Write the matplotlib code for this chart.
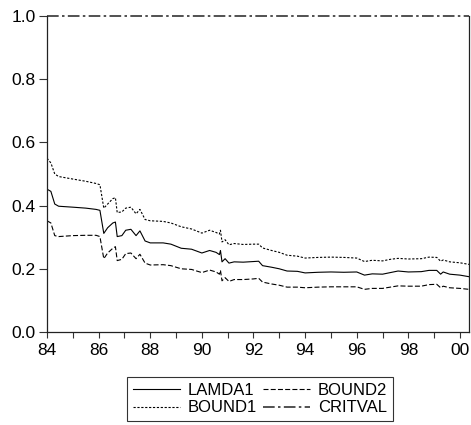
import matplotlib
matplotlib.use("Agg")
from matplotlib import pyplot as plt
from matplotlib.ticker import FixedLocator, FuncFormatter

plt.rcParams['font.family'] = ['Liberation Sans', 'DejaVu Sans']

# data (x in years)
years = [1984.00, 1984.15, 1984.30, 1984.45, 1985.00, 1985.50, 1985.90, 1986.05,
         1986.20, 1986.35, 1986.55, 1986.65, 1986.72, 1986.90, 1987.05, 1987.25,
         1987.45, 1987.60, 1987.80, 1988.00, 1988.50, 1988.80, 1989.20, 1989.60,
         1990.00, 1990.30, 1990.55, 1990.68, 1990.72, 1990.78, 1990.90, 1991.05,
         1991.25, 1991.60, 1992.00, 1992.20, 1992.35, 1992.70, 1993.00, 1993.30,
         1993.70, 1994.00, 1994.50, 1995.00, 1995.50, 1996.00, 1996.30, 1996.60,
         1997.00, 1997.30, 1997.60, 1998.00, 1998.50, 1998.80, 1999.10, 1999.25,
         1999.35, 1999.60, 2000.00, 2000.35]
lamda1 = [0.452, 0.445, 0.405, 0.398, 0.395, 0.392, 0.388, 0.385,
          0.312, 0.330, 0.345, 0.348, 0.302, 0.305, 0.322, 0.325,
          0.305, 0.320, 0.288, 0.282, 0.282, 0.278, 0.265, 0.262,
          0.250, 0.258, 0.252, 0.245, 0.258, 0.222, 0.232, 0.218,
          0.222, 0.221, 0.223, 0.224, 0.210, 0.205, 0.200, 0.193,
          0.192, 0.187, 0.189, 0.190, 0.189, 0.190, 0.180, 0.184,
          0.183, 0.188, 0.193, 0.190, 0.191, 0.195, 0.195, 0.183,
          0.190, 0.183, 0.180, 0.175]
bound1 = [0.550, 0.535, 0.500, 0.492, 0.484, 0.477, 0.470, 0.466,
          0.392, 0.405, 0.422, 0.425, 0.378, 0.380, 0.392, 0.395,
          0.374, 0.388, 0.356, 0.352, 0.350, 0.345, 0.333, 0.326,
          0.313, 0.322, 0.315, 0.310, 0.322, 0.285, 0.292, 0.276,
          0.280, 0.277, 0.278, 0.278, 0.266, 0.258, 0.252, 0.243,
          0.240, 0.234, 0.236, 0.237, 0.236, 0.234, 0.223, 0.227,
          0.225, 0.230, 0.233, 0.231, 0.232, 0.237, 0.236, 0.224,
          0.228, 0.222, 0.219, 0.214]
bound2 = [0.352, 0.345, 0.305, 0.302, 0.305, 0.306, 0.306, 0.302,
          0.232, 0.250, 0.265, 0.270, 0.226, 0.230, 0.248, 0.250,
          0.232, 0.246, 0.218, 0.212, 0.213, 0.210, 0.200, 0.198,
          0.188, 0.196, 0.190, 0.183, 0.195, 0.162, 0.172, 0.160,
          0.166, 0.166, 0.168, 0.170, 0.158, 0.152, 0.148, 0.142,
          0.142, 0.140, 0.142, 0.143, 0.143, 0.143, 0.135, 0.138,
          0.138, 0.142, 0.146, 0.145, 0.145, 0.150, 0.151, 0.140,
          0.145, 0.140, 0.138, 0.135]
crit_years = [1984.00, 2000.35]
critval = [1.0, 1.0]

fig = plt.figure(figsize=(4.71, 4.25), dpi=100)
ax = fig.add_axes([0.0998, 0.2188, 0.8960, 0.7436])

lw = 0.8
ax.plot(years, lamda1, color='black', lw=lw, label='LAMDA1')
ax.plot(years, bound1, color='black', lw=lw, ls=(0, (2, 1.5)), label='BOUND1')
ax.plot(years, bound2, color='black', lw=lw, ls=(0, (4.5, 2)), label='BOUND2')
ax.plot(crit_years, critval, color='#333333', lw=1.2, ls=(0, (7, 2, 1.5, 2)),
        label='CRITVAL', clip_on=False)

ax.set_xlim(1984.0, 2000.35)
ax.set_ylim(0.0, 1.0)
ax.spines['top'].set_visible(False)
for s in ['left', 'bottom', 'right']:
    ax.spines[s].set_color('#222222')
    ax.spines[s].set_linewidth(0.9)

ax.xaxis.set_major_locator(FixedLocator([1984, 1986, 1988, 1990, 1992, 1994, 1996, 1998, 2000]))
ax.xaxis.set_minor_locator(FixedLocator([1985, 1987, 1989, 1991, 1993, 1995, 1997, 1999]))
ax.xaxis.set_major_formatter(FuncFormatter(lambda v, p: f"{int(round(v)) % 100:02d}"))
ax.set_yticks([0.0, 0.2, 0.4, 0.6, 0.8, 1.0])
ax.yaxis.set_major_formatter(FuncFormatter(lambda v, p: f"{v:.1f}"))
ax.tick_params(axis='both', which='both', direction='out', color='#333333',
               labelsize=12.5, width=0.8)
ax.tick_params(axis='x', which='both', length=4, pad=4)
ax.tick_params(axis='y', which='major', length=6, pad=2)

leg = fig.legend(loc='lower left', bbox_to_anchor=(0.27, 0.009), ncol=2,
                 fontsize=12, frameon=True, fancybox=False, edgecolor='black',
                 handlelength=2.8, handletextpad=0.5, columnspacing=0.35,
                 labelspacing=0.15, borderpad=0.35, borderaxespad=0.0)
leg.get_frame().set_linewidth(0.8)

fig.savefig("out.png", dpi=100)
